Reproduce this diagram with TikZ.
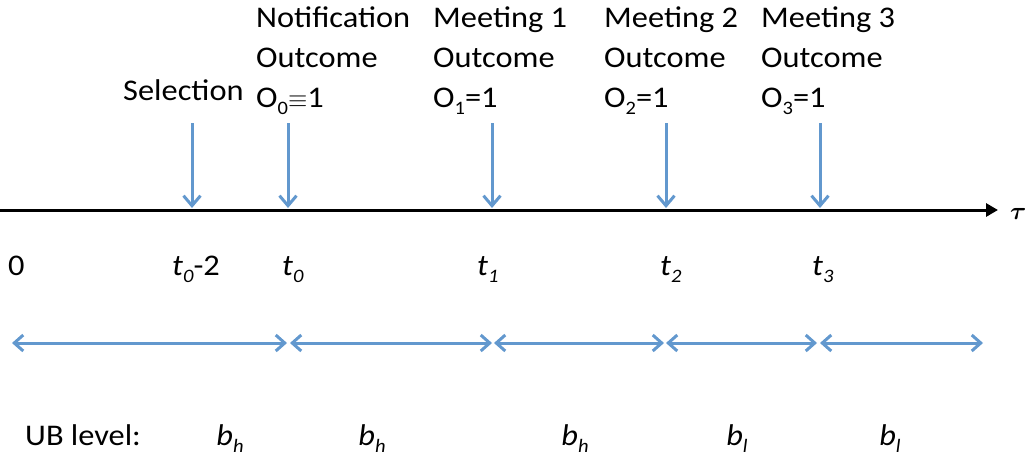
\documentclass[tikz,border=0pt]{standalone}
\usepackage{fontspec}
\setmainfont[FakeStretch=1.08]{Carlito}
\usepackage{bm}
\usetikzlibrary{arrows.meta}
\definecolor{ablue}{RGB}{98,152,206}
\newcommand\lowsub[1]{\raisebox{-7pt}{\fontsize{19}{20}\selectfont #1}}
\begin{document}
\begin{tikzpicture}[x=1pt,y=-1pt,
  lbl/.style={anchor=base west, inner sep=0pt, font=\fontsize{30}{36}\selectfont},
  blab/.style={anchor=base, inner sep=0pt, font=\fontsize{30}{36}\selectfont},
  down/.style={draw=ablue, line width=3pt, -{Straight Barb[length=10pt,width=17pt,line width=3pt]}},
  span/.style={draw=ablue, line width=3pt, {Straight Barb[length=9pt,width=16pt,line width=3pt]}-{Straight Barb[length=9pt,width=16pt,line width=3pt]}},
  axis/.style={draw=black, line width=3pt, -{Triangle[length=12pt,width=13pt]}}]
\useasboundingbox (0,0) rectangle (1033,459);
% axis
\coordinate (a0) at (0,210);
\coordinate (a1) at (998,210);
\draw[axis] (a0) -- (a1);
\node[anchor=base west, inner sep=0pt, font=\fontsize{28}{30}\selectfont] (tau) at (1010,219) {$\bm{\tau}$};
% top labels
\node[lbl] (sel) at (123,100) {Selection};
\node[lbl] (n1) at (256,27) {Notification};
\node[lbl] (n2) at (256,67) {Outcome};
\node[lbl] (n3) at (256,107) {O\lowsub{0}$\equiv$1};
\node[lbl] (m1a) at (433,27) {Meeting 1};
\node[lbl] (m1b) at (433,67) {Outcome};
\node[lbl] (m1c) at (433,107) {O\lowsub{1}=1};
\node[lbl] (m2a) at (604,27) {Meeting 2};
\node[lbl] (m2b) at (604,67) {Outcome};
\node[lbl] (m2c) at (604,107) {O\lowsub{2}=1};
\node[lbl] (m3a) at (761,27) {Meeting 3};
\node[lbl] (m3b) at (761,67) {Outcome};
\node[lbl] (m3c) at (761,107) {O\lowsub{3}=1};
% vertical arrows
\foreach \n/\x in {s/192,o/288,p/492,q/666,r/820}{
  \coordinate (\n top) at (\x,123);
  \coordinate (\n bot) at (\x,208);
  \draw[down] (\n top) -- (\n bot);
}
% time labels
\node[lbl] (z) at (8,275) {0};
\node[lbl] (tm) at (172,275) {\textit{t}\lowsub{\textit{0}}-2};
\node[lbl] (t0) at (282,275) {\textit{t}\lowsub{\textit{0}}};
\node[lbl] (t1) at (477,275) {\textit{t}\lowsub{\textit{1}}};
\node[lbl] (t2) at (660,275) {\textit{t}\lowsub{\textit{2}}};
\node[lbl] (t3) at (812,275) {\textit{t}\lowsub{\textit{3}}};
% spans
\coordinate (c0) at (12,343);
\coordinate (c1a) at (287,343);
\coordinate (c1b) at (290,343);
\coordinate (c2a) at (492,343);
\coordinate (c2b) at (494,343);
\coordinate (c3a) at (664,343);
\coordinate (c3b) at (666,343);
\coordinate (c4a) at (817,343);
\coordinate (c4b) at (820,343);
\coordinate (c5) at (983,343);
\draw[span] (c0) -- (c1a);
\draw[span] (c1b) -- (c2a);
\draw[span] (c2b) -- (c3a);
\draw[span] (c3b) -- (c4a);
\draw[span] (c4b) -- (c5);
% UB level
\node[lbl] (ub) at (25,445) {UB level:};
\node[blab] (b1) at (230,445) {\textit{b}\lowsub{\textit{h}}};
\node[blab] (b2) at (372,445) {\textit{b}\lowsub{\textit{h}}};
\node[blab] (b3) at (575,445) {\textit{b}\lowsub{\textit{h}}};
\node[blab] (b4) at (737,445) {\textit{b}\lowsub{\textit{l}}};
\node[blab] (b5) at (890,445) {\textit{b}\lowsub{\textit{l}}};
\end{tikzpicture}
\end{document}
